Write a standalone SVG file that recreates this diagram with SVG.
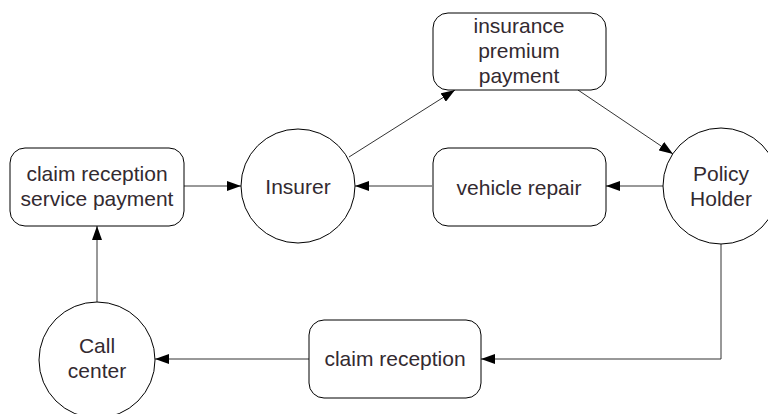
<svg xmlns="http://www.w3.org/2000/svg" width="768" height="414" viewBox="0 0 768 414">
  <style>
    .box { fill: #ffffff; stroke: #000000; stroke-width: 1; }
    .circ { fill: #ffffff; stroke: #000000; stroke-width: 1; }
    .lbl { font-family: "Liberation Sans", Arial, sans-serif; font-size: 21px; fill: #332a30; text-anchor: middle; }
    .edge { fill: none; stroke: #333333; stroke-width: 1; marker-end: url(#arrow); }
  </style>
  <defs>
    <marker id="arrow" viewBox="0 0 14 10" refX="14" refY="5" markerWidth="14" markerHeight="10" markerUnits="userSpaceOnUse" orient="auto">
      <path d="M0,0 L14,5 L0,10 Z" fill="#000000"/>
    </marker>
  </defs>
  <rect width="768" height="414" fill="#ffffff"/>

  <g id="connectors">
    <line class="edge" x1="184" y1="186" x2="241" y2="186"/>
    <line class="edge" x1="432" y1="186" x2="355" y2="186"/>
    <line class="edge" x1="663" y1="186" x2="606" y2="186"/>
    <line class="edge" x1="349" y1="157" x2="455" y2="90"/>
    <line class="edge" x1="578" y1="90" x2="673" y2="154"/>
    <polyline class="edge" points="721,244 721,359 481,359"/>
    <line class="edge" x1="309" y1="359" x2="155" y2="359"/>
    <line class="edge" x1="97" y1="302" x2="97" y2="226"/>
  </g>

  <g id="claim-reception-service-payment">
    <rect class="box" x="10" y="148" width="174" height="78" rx="15"/>
    <text class="lbl" x="97" y="181">claim reception</text>
    <text class="lbl" x="97" y="206">service payment</text>
  </g>

  <g id="insurer">
    <circle class="circ" cx="298" cy="186" r="57"/>
    <text class="lbl" x="298" y="194">Insurer</text>
  </g>

  <g id="insurance-premium-payment">
    <rect class="box" x="433" y="13" width="173" height="77" rx="15"/>
    <text class="lbl" x="519" y="33">insurance</text>
    <text class="lbl" x="519" y="58">premium</text>
    <text class="lbl" x="519" y="83">payment</text>
  </g>

  <g id="vehicle-repair">
    <rect class="box" x="433" y="148" width="173" height="78" rx="15"/>
    <text class="lbl" x="519" y="195">vehicle repair</text>
  </g>

  <g id="policy-holder">
    <circle class="circ" cx="721" cy="186" r="58"/>
    <text class="lbl" x="721" y="181">Policy</text>
    <text class="lbl" x="721" y="206">Holder</text>
  </g>

  <g id="claim-reception">
    <rect class="box" x="309" y="320" width="172" height="78" rx="15"/>
    <text class="lbl" x="395" y="366">claim reception</text>
  </g>

  <g id="call-center">
    <circle class="circ" cx="97" cy="360" r="58"/>
    <text class="lbl" x="97" y="353">Call</text>
    <text class="lbl" x="97" y="378">center</text>
  </g>
</svg>
